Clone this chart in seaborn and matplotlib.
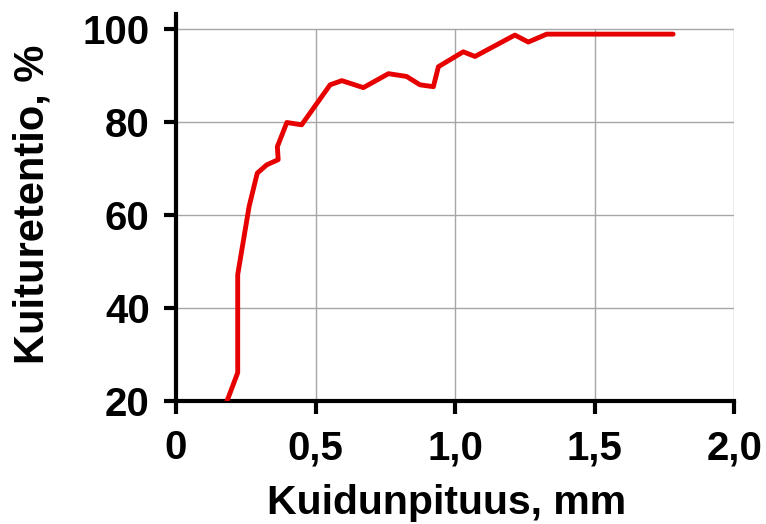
import matplotlib
matplotlib.use("Agg")
import matplotlib.pyplot as plt
import seaborn as sns
import pandas as pd

# Data
fiber_length_mm = [0.182, 0.221, 0.221, 0.262, 0.291, 0.325, 0.366, 0.363, 0.397, 0.450,
                   0.552, 0.594, 0.671, 0.761, 0.826, 0.874, 0.922, 0.940, 1.029, 1.071,
                   1.214, 1.262, 1.328, 1.781]
retention_pct = [20.0, 26.2, 47.3, 62.0, 69.1, 70.9, 72.0, 74.8, 80.0, 79.5,
                 88.1, 89.0, 87.5, 90.5, 89.9, 88.1, 87.7, 92.0, 95.2, 94.2,
                 98.8, 97.3, 99.0, 99.0]
x_ticks = [0, 0.5, 1.0, 1.5, 2.0]
x_tick_labels = ["0", "0,5", "1,0", "1,5", "2,0"]
y_ticks = [20, 40, 60, 80, 100]
y_tick_labels = ["20", "40", "60", "80", "100"]
x_label = "Kuidunpituus, mm"
y_label = "Kuituretentio, %"

sns.set_style("white")
plt.rcParams["font.family"] = ["Liberation Sans", "DejaVu Sans"]
plt.rcParams["font.weight"] = "bold"
plt.rcParams["axes.labelcolor"] = "black"
plt.rcParams["text.color"] = "black"

df = pd.DataFrame({"x": fiber_length_mm, "y": retention_pct})

fig = plt.figure(figsize=(7.66, 5.24), dpi=100)
ax = fig.add_axes([0.2298, 0.2338, 0.9586 - 0.2298, 0.973 - 0.2338])

# grid
for yt in y_ticks[1:]:
    ax.axhline(yt, color="#a6a6a6", lw=1.0, zorder=1)
ax.vlines(x_ticks[1:], y_ticks[0], y_ticks[-1], color="#a6a6a6", lw=1.0, zorder=1)

sns.lineplot(data=df, x="x", y="y", sort=False, estimator=None, ax=ax,
             color="#e60000", lw=3.5, zorder=3)

ax.set_xlim(0, 2.0)
ax.set_ylim(20, 103.3)
ax.set_xticks(x_ticks)
ax.set_xticklabels(x_tick_labels)
ax.set_yticks(y_ticks)
ax.set_yticklabels(y_tick_labels)

for s in ["top", "right"]:
    ax.spines[s].set_visible(False)
for s in ["left", "bottom"]:
    ax.spines[s].set_linewidth(3)
    ax.spines[s].set_color("black")

ax.tick_params(axis="both", which="major", direction="out", length=9, width=3,
               labelsize=29, colors="black")
ax.tick_params(axis="y", pad=10, left=True)
ax.tick_params(axis="x", pad=11, bottom=True)
for lbl in ax.get_xticklabels() + ax.get_yticklabels():
    lbl.set_fontweight("bold")

ax.set_xlabel(x_label, fontsize=29.5, fontweight="bold", color="black")
ax.set_ylabel(y_label, fontsize=30, fontweight="bold", color="black")
ax.xaxis.set_label_coords(0.485, -0.212)
ax.yaxis.set_label_coords(-0.222, 0.51)

fig.savefig("out.png", dpi=100)
